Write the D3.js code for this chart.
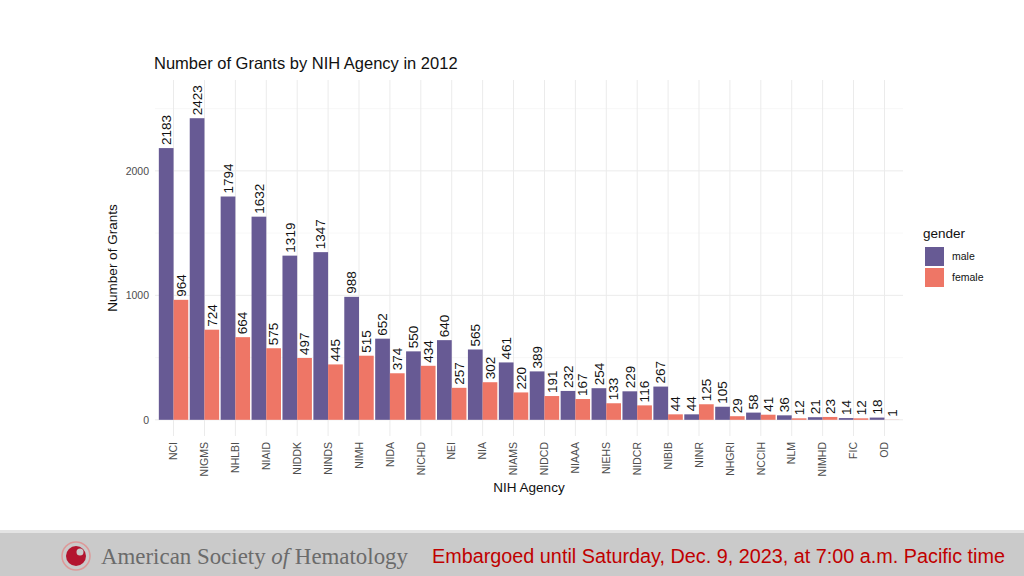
<!DOCTYPE html>
<html><head><meta charset="utf-8">
<script src="https://cdn.jsdelivr.net/npm/d3@7"></script>
<style>body{margin:0;background:#fff;} svg{display:block;font-family:"Liberation Sans",Arial,sans-serif;}</style>
</head><body>
<svg id="c" width="1024" height="576"></svg>
<script>
const agencies = ["NCI","NIGMS","NHLBI","NIAID","NIDDK","NINDS","NIMH","NIDA","NICHD","NEI","NIA","NIAMS","NIDCD","NIAAA","NIEHS","NIDCR","NIBIB","NINR","NHGRI","NCCIH","NLM","NIMHD","FIC","OD"];
const maleValues = [2183,2423,1794,1632,1319,1347,988,652,550,640,565,461,389,232,254,229,267,44,105,58,36,21,14,18];
const femaleValues = [964,724,664,575,497,445,515,374,434,257,302,220,191,167,133,116,44,125,29,41,12,23,12,1];
const genders = ["male","female"];
const genderColors = ["#675a94","#ee7666"];
const yTicks = [0,1000,2000];
const yMinor = [500,1500,2500];

const svg = d3.select("#c");
const L = 155, R = 903, T = 80, B = 436;

const x = d3.scaleBand().domain(agencies).range([L, R]).paddingOuter(0.1).paddingInner(0);
const xs = d3.scaleBand().domain(genders).range([0, x.bandwidth()]).paddingInner(0).paddingOuter(0.05);
const y = d3.scaleLinear().domain([-130, 2730]).range([B, T]);
const color = d3.scaleOrdinal().domain(genders).range(genderColors);

// grid
const g = svg.append("g");
g.selectAll(".ymin").data(yMinor).join("line").attr("x1",L).attr("x2",R).attr("y1",d=>y(d)).attr("y2",d=>y(d)).attr("stroke","#f3f3f3").attr("stroke-width",0.6);
g.selectAll(".ymaj").data(yTicks).join("line").attr("x1",L).attr("x2",R).attr("y1",d=>y(d)).attr("y2",d=>y(d)).attr("stroke","#ebebeb").attr("stroke-width",1);
g.selectAll(".xg").data(agencies).join("line").attr("x1",d=>x(d)+x.bandwidth()/2).attr("x2",d=>x(d)+x.bandwidth()/2).attr("y1",T).attr("y2",B).attr("stroke","#ebebeb").attr("stroke-width",1);

const rows = [];
agencies.forEach((a,i)=>{ rows.push({a, gender:"male", v:maleValues[i]}); rows.push({a, gender:"female", v:femaleValues[i]}); });

svg.append("g").selectAll("rect").data(rows).join("rect")
  .attr("x", d=>x(d.a)+xs(d.gender))
  .attr("width", xs.bandwidth())
  .attr("y", d=>y(d.v))
  .attr("height", d=>y(0)-y(d.v))
  .attr("fill", d=>color(d.gender));

svg.append("g").selectAll("text").data(rows).join("text")
  .attr("transform", d=>`translate(${x(d.a)+xs(d.gender)+xs.bandwidth()/2+4.7},${y(d.v)-3}) rotate(-90)`)
  .attr("font-size",13.5).attr("fill","#111").attr("text-anchor","start")
  .text(d=>d.v);

// y axis
const ya = svg.append("g").attr("transform",`translate(${L-6},0)`)
  .call(d3.axisLeft(y).tickValues(yTicks).tickFormat(d3.format("d")).tickSize(0).tickPadding(0));
ya.select(".domain").remove();
ya.selectAll("text").attr("font-size",10.5).attr("fill","#4d4d4d").attr("font-family","Liberation Sans, Arial, sans-serif");

// x axis
const xa = svg.append("g").attr("transform",`translate(0,${B+4})`)
  .call(d3.axisBottom(x).tickSize(0).tickPadding(0));
xa.select(".domain").remove();
xa.selectAll("text").attr("font-size",10.5).attr("fill","#4d4d4d").attr("font-family","Liberation Sans, Arial, sans-serif")
  .attr("transform","rotate(-90)").attr("text-anchor","end").attr("dy","0.35em").attr("x",-2).attr("y",0);

svg.append("text").attr("x",154).attr("y",69).attr("font-size",16.5).attr("fill","#111").text("Number of Grants by NIH Agency in 2012");
svg.append("text").attr("transform",`translate(117,${(T+B)/2}) rotate(-90)`).attr("text-anchor","middle").attr("font-size",13.5).attr("fill","#111").text("Number of Grants");
svg.append("text").attr("x",(L+R)/2).attr("y",492).attr("text-anchor","middle").attr("font-size",13.5).attr("fill","#111").text("NIH Agency");

// legend
const lg = svg.append("g").attr("transform","translate(923,0)");
lg.append("text").attr("x",0).attr("y",238).attr("font-size",13.5).attr("fill","#111").text("gender");
lg.selectAll("rect").data(genders).join("rect").attr("x",2).attr("y",(d,i)=>247+i*21).attr("width",19).attr("height",19).attr("fill",d=>color(d));
lg.selectAll(".lt").data(genders).join("text").attr("x",29).attr("y",(d,i)=>260+i*21).attr("font-size",10.5).attr("fill","#111").text(d=>d);

// footer
svg.append("rect").attr("x",0).attr("y",530).attr("width",1024).attr("height",3).attr("fill","#e4e4e4");
svg.append("rect").attr("x",0).attr("y",533).attr("width",1024).attr("height",43).attr("fill","#cacaca");
svg.append("circle").attr("cx",76).attr("cy",556).attr("r",14).attr("fill","none").attr("stroke","#d99").attr("stroke-width",1.5);
svg.append("circle").attr("cx",76).attr("cy",556).attr("r",10).attr("fill","#b3152f");
svg.append("circle").attr("cx",80).attr("cy",552).attr("r",3.5).attr("fill","#cacaca");
svg.append("text").attr("x",101).attr("y",564).attr("font-family","Liberation Serif, serif").attr("font-size",23).attr("fill","#6b6b6b")
  .attr("textLength",307).attr("lengthAdjust","spacingAndGlyphs")
  .html('American Society <tspan font-style="italic">of</tspan> Hematology');
svg.append("text").attr("x",432).attr("y",563).attr("font-size",20).attr("fill","#c00000").attr("textLength",573).attr("lengthAdjust","spacingAndGlyphs").text("Embargoed until Saturday, Dec. 9, 2023, at 7:00 a.m. Pacific time");
</script>
</body></html>
